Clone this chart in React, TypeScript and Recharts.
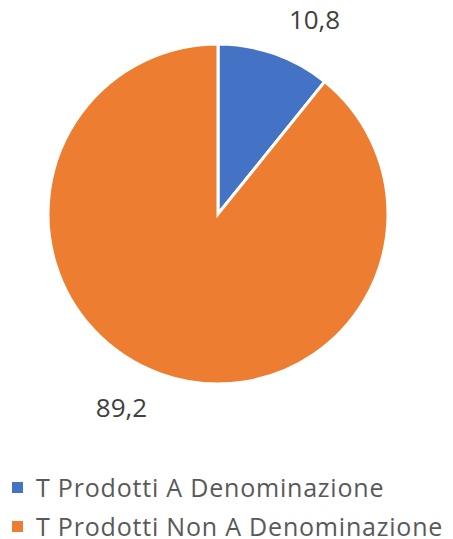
import { PieChart, Pie, Cell } from "recharts";

const categories = ["T Prodotti A Denominazione", "T Prodotti Non A Denominazione"];
const values = [10.8, 89.2];
const colors = ["#4472C4", "#ED7D31"];

const data = categories.map((name, i) => ({ name, value: values[i] }));

const FONT = "'Open Sans', sans-serif";
const RAD = Math.PI / 180;

function renderLabel(props: any) {
  const { cx, cy, midAngle, value } = props;
  const r = 192;
  const ax = cx + r * Math.cos(-midAngle * RAD);
  const ay = cy + r * Math.sin(-midAngle * RAD);
  const right = Math.cos(-midAngle * RAD) >= 0;
  const down = Math.sin(-midAngle * RAD) >= 0;
  return (
    <text
      x={right ? ax + 7 : ax - 7}
      y={down ? ay + 22 : ay - 4}
      textAnchor={right ? "start" : "end"}
      fill="#404040"
      fontSize={26}
      fontFamily={FONT}
    >
      {String(value).replace(".", ",")}
    </text>
  );
}

export default function App() {
  return (
    <div style={{ position: "absolute", left: 0, top: 0, width: 453, height: 539, background: "#fff", overflow: "hidden" }}>
      <PieChart width={453} height={460}>
        <Pie
          data={data}
          dataKey="value"
          cx={213}
          cy={209}
          outerRadius={170}
          startAngle={90}
          endAngle={-270}
          stroke="#fff"
          strokeWidth={3}
          label={renderLabel}
          labelLine={false}
          isAnimationActive={false}
        >
          {data.map((d, i) => (
            <Cell key={d.name} fill={colors[i]} />
          ))}
        </Pie>
      </PieChart>
      <div style={{ position: "absolute", left: 12, top: 468, fontFamily: FONT }}>
        {categories.map((c, i) => (
          <div key={c} style={{ display: "flex", alignItems: "center", height: 39, whiteSpace: "nowrap" }}>
            <span style={{ width: 11, height: 11, background: colors[i], marginRight: 13 }} />
            <span style={{ fontSize: 25, lineHeight: "25px", letterSpacing: 0.8, color: "#595959" }}>{c}</span>
          </div>
        ))}
      </div>
    </div>
  );
}
